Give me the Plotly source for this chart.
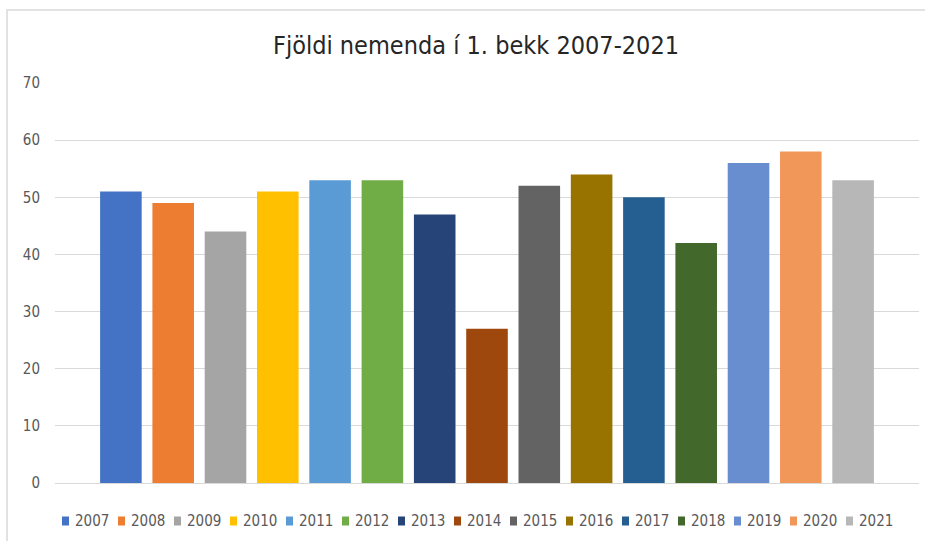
import plotly.graph_objects as go

years = ["2007", "2008", "2009", "2010", "2011", "2012", "2013", "2014",
         "2015", "2016", "2017", "2018", "2019", "2020", "2021"]
values = [51, 49, 44, 51, 53, 53, 47, 27, 52, 54, 50, 42, 56, 58, 53]
colors = ["#4472C4", "#ED7D31", "#A5A5A5", "#FFC000", "#5B9BD5", "#70AD47",
          "#264478", "#9E480E", "#636363", "#997300", "#255E91", "#43682B",
          "#698ED0", "#F1975A", "#B7B7B7"]
title_text = "Fjöldi nemenda í 1. bekk 2007-2021"
y_ticks = [0, 10, 20, 30, 40, 50, 60, 70]

fig = go.Figure()
for yr, v, c in zip(years, values, colors):
    fig.add_trace(go.Bar(x=[""], y=[v], name=yr, marker_color=c,
                         marker_line_width=0, showlegend=False))

L, T, W, H = 55, 83, 864, 400
narrow = "Liberation Sans Narrow, DejaVu Sans Condensed, Open Sans"


def px_x(px):
    return (px - L) / W


def px_y(py):
    return (T + H - py) / H


# Legend drawn as a row of coloured keys with real text labels
shapes = [dict(type="rect", xref="paper", yref="paper",
               x0=px_x(7), x1=px_x(940), y0=px_y(560), y1=px_y(10),
               line=dict(color="#D9D9D9", width=1.5), layer="below")]
annotations = []
leg_x0, leg_pitch, leg_y = 62, 56, 521
for i, (yr, c) in enumerate(zip(years, colors)):
    x0 = leg_x0 + i * leg_pitch
    shapes.append(dict(type="rect", xref="paper", yref="paper",
                       x0=px_x(x0), x1=px_x(x0 + 7),
                       y0=px_y(leg_y + 4.5), y1=px_y(leg_y - 4.5),
                       fillcolor=c, line=dict(width=0)))
    annotations.append(dict(text=yr, xref="paper", yref="paper",
                            x=px_x(x0 + 11), y=px_y(leg_y),
                            xanchor="left", yanchor="middle", showarrow=False,
                            font=dict(size=15, color="#595959", family=narrow)))

fig.update_layout(
    width=925, height=541,
    margin=dict(l=L, r=925 - L - W, t=T, b=541 - T - H),
    paper_bgcolor="white", plot_bgcolor="white",
    barmode="group", bargap=0.092, bargroupgap=0.205,
    font=dict(family="Open Sans", color="#595959"),
    title=dict(text=title_text, x=476 / 925, xref="container", xanchor="center",
               y=1 - 45 / 541, yref="container", yanchor="middle",
               font=dict(size=25, color="#262626", family=narrow)),
    xaxis=dict(showticklabels=False, showgrid=False, zeroline=False,
               showline=False, fixedrange=True),
    yaxis=dict(range=[0, 70], tickvals=y_ticks, showgrid=True,
               gridcolor="#D9D9D9", gridwidth=1, zeroline=True,
               zerolinecolor="#D9D9D9", zerolinewidth=1, showline=False,
               ticks="", ticklabelstandoff=14,
               tickfont=dict(size=15, color="#595959", family=narrow)),
    showlegend=False,
    shapes=shapes,
    annotations=annotations,
)

fig.write_html("out.html",
               config={"displayModeBar": False},
               post_script="document.body.style.margin='0';")
